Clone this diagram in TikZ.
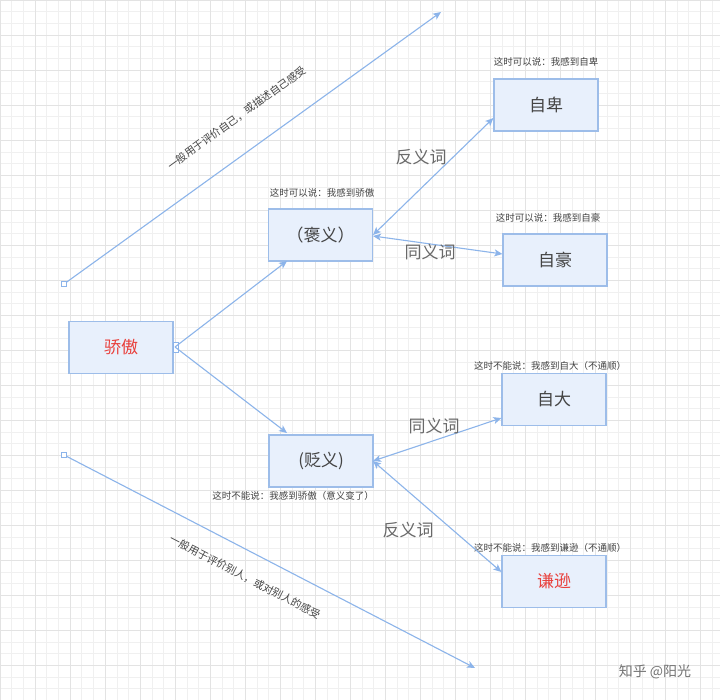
\documentclass[tikz,border=0pt]{standalone}
\usepackage{fontspec}
\setmainfont{Noto Sans CJK SC}
\usetikzlibrary{arrows.meta}
\definecolor{ln}{HTML}{8CB4EA}
\definecolor{bd}{HTML}{9DBDE9}
\definecolor{fl}{HTML}{E8F0FC}
\definecolor{tx}{HTML}{444444}
\definecolor{rd}{HTML}{E8403C}
\begin{document}
\begin{tikzpicture}[x=1pt,y=-1pt,
 box/.style={draw=bd,line width=1.2pt,fill=fl,minimum width=104pt,minimum height=52pt,inner sep=0pt,font=\fontsize{17}{17}\selectfont,text=tx},
 note/.style={font=\fontsize{9.5}{9.5}\selectfont,text=tx},
 elab/.style={font=\fontsize{17}{17}\selectfont,text=tx!80},
 con/.style={draw=ln,line width=1.1pt,-{Stealth[length=8pt,width=7pt,inset=2pt]}},
 dcon/.style={draw=ln,line width=1.1pt,{Stealth[length=8pt,width=7pt,inset=2pt]}-{Stealth[length=8pt,width=7pt,inset=2pt]}}]
\useasboundingbox (0,0) rectangle (720,700);
\fill[white] (0,0) rectangle (720,700);
\foreach \i in {0,...,62}{
  \draw[black!6,line width=0.4pt] (\i*11.67,0) -- (\i*11.67,700);
  \draw[black!6,line width=0.4pt] (0,\i*11.67) -- (720,\i*11.67);}
\foreach \i in {0,...,20}{
  \draw[black!11,line width=0.5pt] (\i*35,0) -- (\i*35,700);
  \draw[black!11,line width=0.5pt] (0,\i*35) -- (720,\i*35);}
\node[box,text=rd] (jiao) at (121,347.5) {骄傲};
\node[box] (bao) at (320.5,235) {（褒义）};
\node[box] (bian) at (321,461) {(贬义)};
\node[box] (zibei) at (546,105) {自卑};
\node[box] (zihao) at (555,260) {自豪};
\node[box] (zida) at (554,399.5) {自大};
\node[box,text=rd] (qian) at (554,581.5) {谦逊};
\node[note] (n1) at (322,193) {这时可以说：我感到骄傲};
\node[note] (n2) at (546,62) {这时可以说：我感到自卑};
\node[note] (n3) at (548,218) {这时可以说：我感到自豪};
\node[note] (n4) at (550,366) {这时不能说：我感到自大（不通顺）};
\node[note] (n5) at (293,496) {这时不能说：我感到骄傲（意义变了）};
\node[note] (n6) at (550,548) {这时不能说：我感到谦逊（不通顺）};
\coordinate (p) at (175,347);
\draw[draw=ln,line width=0.8pt,fill=white] (173,342) rectangle (178,352);
\draw[con] (p) -- (287,261);
\draw[con] (p) -- (287,433);
\draw[dcon] (373,235) -- (zibei.west |- 0,118);
\draw[dcon] (373,236) -- (zihao.west |- 0,254);
\draw[dcon] (373,461) -- (zida.west |- 0,418);
\draw[dcon] (373,461) -- (qian.west |- 0,572);
\node[elab] (l1) at (421,157) {反义词};
\node[elab] (l2) at (430,252) {同义词};
\node[elab] (l3) at (434,426) {同义词};
\node[elab] (l4) at (408,530) {反义词};
\coordinate (s1) at (64,284);
\coordinate (e1) at (441,12);
\coordinate (s2) at (64,455);
\coordinate (e2) at (475,668);
\draw[con] (s1) -- (e1);
\draw[con] (s2) -- (e2);
\draw[draw=ln,line width=0.8pt,fill=white] (61.5,281.5) rectangle ++(5,5);
\draw[draw=ln,line width=0.8pt,fill=white] (61.5,452.5) rectangle ++(5,5);
\node[note,rotate=35.8,font=\fontsize{10.5}{10.5}\selectfont] (t1) at (237,118) {一般用于评价自己，或描述自己感受};
\node[note,rotate=-27.4,font=\fontsize{10.5}{10.5}\selectfont] (t2) at (245,577) {一般用于评价别人，或对别人的感受};
\node[font=\fontsize{14}{14}\selectfont,text=black!55] (wm) at (655,672) {知乎 @阳光};
\end{tikzpicture}
\end{document}
